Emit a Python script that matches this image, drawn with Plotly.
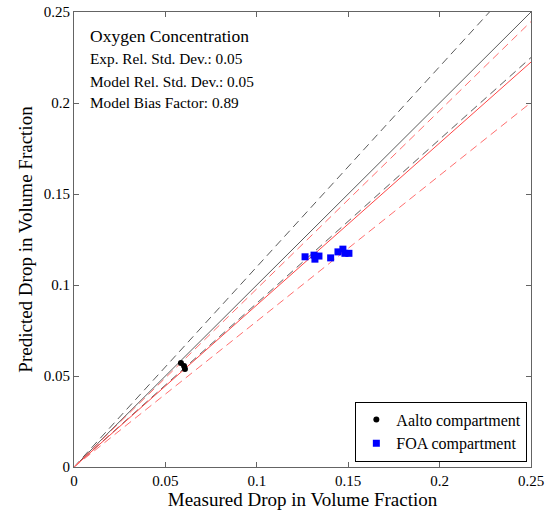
import plotly.graph_objects as go

# Data
aalto_measured = [0.0585, 0.0602, 0.0607]
aalto_predicted = [0.0571, 0.0555, 0.0538]

foa_measured = [0.1264, 0.1313, 0.1340, 0.1318, 0.1404, 0.1444, 0.1471, 0.1482, 0.1504]
foa_predicted = [0.1155, 0.1164, 0.1159, 0.1142, 0.1149, 0.1182, 0.1197, 0.1174, 0.1174]

exp_rel_std = 0.05
model_rel_std = 0.05
bias_factor = 0.89

tick_vals = [0, 0.05, 0.1, 0.15, 0.2, 0.25]
tick_text = ["0", "0.05", "0.1", "0.15", "0.2", "0.25"]

line_x = [0, 0.25]

FONT = "Times New Roman"

fig = go.Figure()

def ref_line(slope, color, dash, width=1):
    fig.add_trace(go.Scatter(
        x=line_x, y=[slope * v for v in line_x], mode="lines",
        line=dict(color=color, dash=dash, width=width),
        showlegend=False, hoverinfo="skip"))

black = "rgb(90,90,90)"
red = "rgb(255,70,70)"
red_dash = "rgb(255,110,110)"
ref_line(1.0, black, "solid")
ref_line(1 + 2 * exp_rel_std, black, "8px,5px")
ref_line(1 - 2 * exp_rel_std, black, "8px,5px")
ref_line(bias_factor, red, "solid")
ref_line(bias_factor * (1 + 2 * model_rel_std), red_dash, "8px,5px")
ref_line(bias_factor * (1 - 2 * model_rel_std), red_dash, "8px,5px")

fig.add_trace(go.Scatter(
    x=aalto_measured, y=aalto_predicted, mode="markers",
    name="Aalto compartment",
    marker=dict(color="black", size=6, symbol="circle")))
fig.add_trace(go.Scatter(
    x=foa_measured, y=foa_predicted, mode="markers",
    name="FOA compartment",
    marker=dict(color="blue", size=7, symbol="square")))

axis_common = dict(
    range=[0, 0.25], tickvals=tick_vals, ticktext=tick_text,
    ticks="inside", ticklen=5, tickcolor="rgb(100,100,100)",
    showline=True, linecolor="rgb(100,100,100)", linewidth=1, mirror="ticks",
    showgrid=False, zeroline=False, automargin=False,
    tickfont=dict(family=FONT, size=15, color="black"),
)

fig.update_layout(
    width=557, height=514,
    margin=dict(l=74, r=26, t=12, b=47),
    paper_bgcolor="white", plot_bgcolor="white",
    font=dict(family=FONT, color="black"),
    xaxis=dict(**axis_common,
               title=dict(text="Measured Drop in Volume Fraction",
                          font=dict(family=FONT, size=19), standoff=2)),
    yaxis=dict(**axis_common,
               title=dict(text="Predicted Drop in Volume Fraction",
                          font=dict(family=FONT, size=19), standoff=6)),
    legend=dict(x=0.992, y=0.012, xanchor="right", yanchor="bottom",
                bgcolor="white", bordercolor="black", borderwidth=1,
                font=dict(family=FONT, size=16), tracegroupgap=0,
                itemwidth=30),
    showlegend=True,
)

annots = [
    ("Oxygen Concentration", 36, 17.5),
    ("Exp. Rel. Std. Dev.: 0.05", 59, 15.3),
    ("Model Rel. Std. Dev.: 0.05", 81, 15.3),
    ("Model Bias Factor: 0.89", 103, 15.3),
]
for text, ypix, size in annots:
    fig.add_annotation(
        x=(88 - 74) / 457, xref="paper", xanchor="left",
        y=1 - (ypix - 12) / 455, yref="paper", yanchor="middle",
        text=text, showarrow=False,
        font=dict(family=FONT, size=size, color="black"))

fig.write_html("out.html", config={"displayModeBar": False},
               post_script="document.body.style.margin='0';")
